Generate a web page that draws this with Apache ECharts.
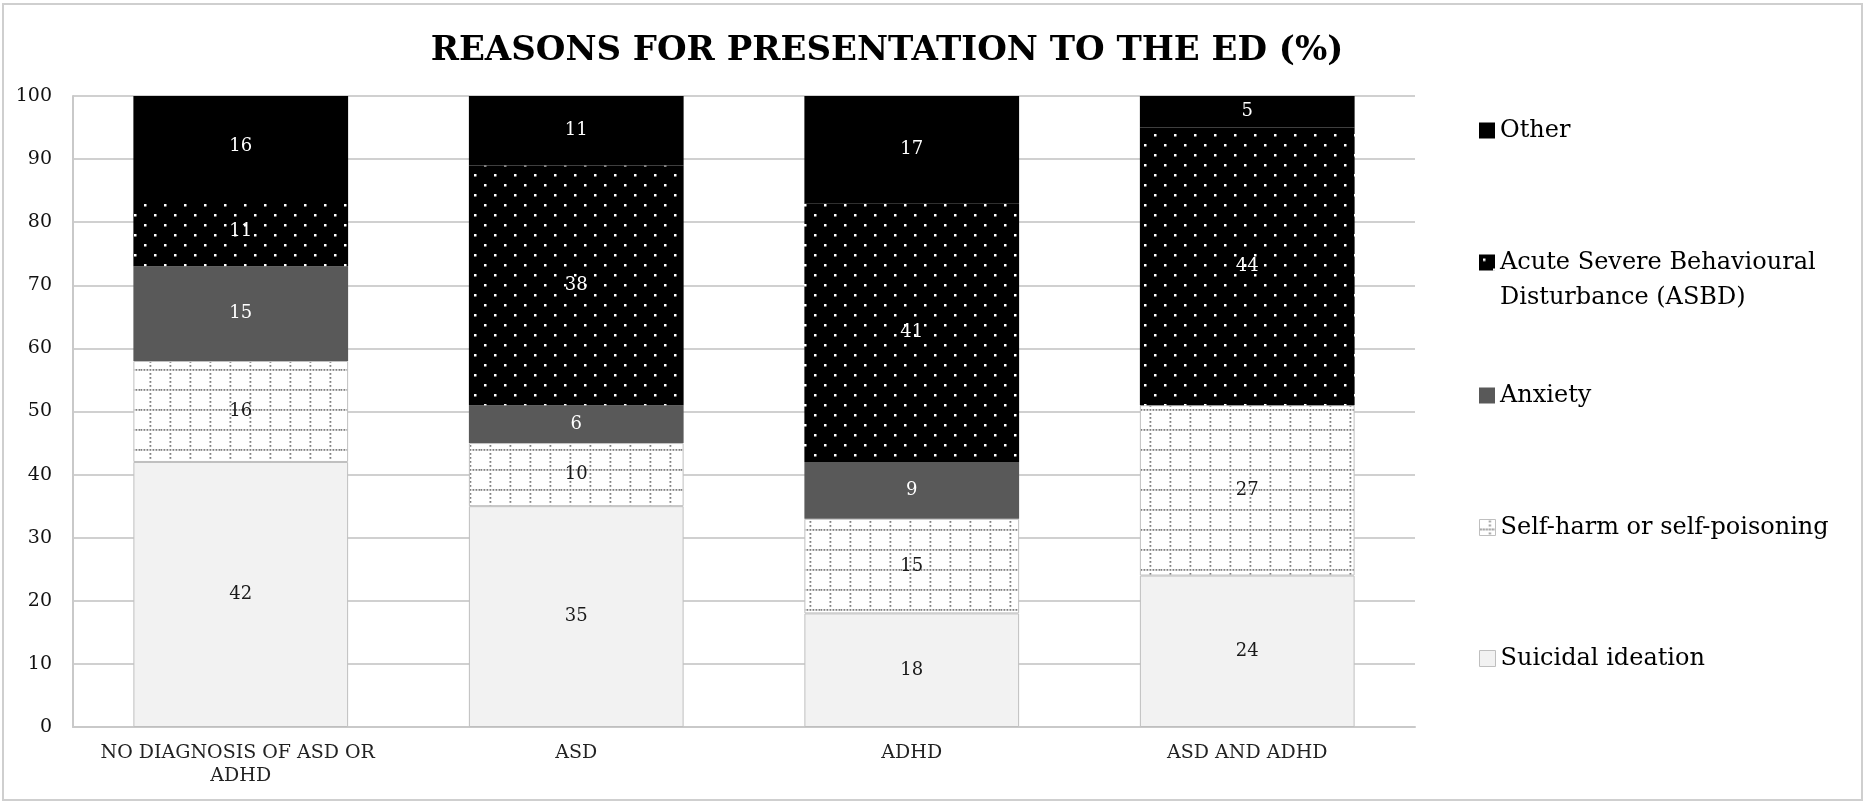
<!DOCTYPE html>
<html>
<head>
<meta charset="utf-8">
<script src="https://cdn.jsdelivr.net/npm/echarts@6/dist/echarts.min.js"></script>
<style>
  html, body { margin: 0; padding: 0; background: #fff; }
  #chart { width: 1865px; height: 802px; }
</style>
</head>
<body>
<div id="chart"></div>
<script>
// ---- data ----
const categories = ['NO DIAGNOSIS OF ASD OR ADHD', 'ASD', 'ADHD', 'ASD AND ADHD'];
const seriesNames = ['Suicidal ideation', 'Self-harm or self-poisoning', 'Anxiety', 'Acute Severe Behavioural Disturbance (ASBD)', 'Other'];
const suicidalIdeation = [42, 35, 18, 24];
const selfHarm = [16, 10, 15, 27];
const anxiety = [15, 6, 9, 0];
const asbd = [11, 38, 41, 44];
const other = [16, 11, 17, 5];
const titleText = 'REASONS FOR PRESENTATION TO THE ED (%)';
const yMin = 0, yMax = 100, yStep = 10;

// ---- patterns ----
function dotPattern() {
  const c = document.createElement('canvas');
  c.width = 20; c.height = 20;
  const g = c.getContext('2d');
  g.fillStyle = '#000'; g.fillRect(0, 0, 20, 20);
  g.fillStyle = '#fff';
  g.fillRect(4, 4, 2.5, 2.5);
  g.fillRect(14, 14, 2.5, 2.5);
  return { image: c, repeat: 'repeat' };
}
function gridPattern() {
  const c = document.createElement('canvas');
  c.width = 20; c.height = 20;
  const g = c.getContext('2d');
  g.fillStyle = '#fff'; g.fillRect(0, 0, 20, 20);
  g.fillStyle = '#7f7f7f';
  [0, 3, 6, 9, 12, 15, 18].forEach(x => g.fillRect(x + 0.5, 9, 1.8, 1.8));
  [1, 5, 13, 17].forEach(y => g.fillRect(9.5, y, 1.8, 1.8));
  return { image: c, repeat: 'repeat' };
}

const fills = ['#f2f2f2', gridPattern(), '#595959', dotPattern(), '#000000'];
const borderWidths = [1, 1, 0, 0, 0];
const labelColors = ['#1a1a1a', '#1a1a1a', '#ffffff', '#ffffff', '#ffffff'];
const values = [suicidalIdeation, selfHarm, anxiety, asbd, other];
const font = 'DejaVu Serif';

const chart = echarts.init(document.getElementById('chart'), null, { renderer: 'canvas' });

const series = seriesNames.map((name, i) => ({
  name: name,
  type: 'bar',
  stack: 'total',
  barWidth: '64%',
  data: values[i],
  itemStyle: { color: fills[i], borderColor: '#bfbfbf', borderWidth: borderWidths[i] },
  label: {
    show: true,
    position: 'inside',
    color: labelColors[i],
    fontFamily: font,
    fontSize: 18,
    formatter: p => (p.value ? String(p.value) : '')
  },
  emphasis: { disabled: true }
}));

// one legend per item to match the spaced layout
const legendCenters = [131, 263, 396, 528, 659];
const legendOrder = [4, 3, 2, 1, 0];
const legends = legendOrder.map((si, k) => {
  const isAsbd = si === 3;
  const dark = si >= 2;
  return {
    data: [seriesNames[si]],
    orient: 'vertical',
    left: 1474,
    top: legendCenters[k] - 23,
    itemWidth: 16,
    itemHeight: isAsbd ? 51 : 16,
    icon: isAsbd ? 'path://M0 0H16V16H0Z M0 51H0.01V51.01H0Z' : 'rect',
    itemGap: 0,
    selectedMode: false,
    itemStyle: dark ? { borderWidth: 0 } : { borderColor: '#bfbfbf', borderWidth: 1 },
    formatter: n => n.replace(' Disturbance', '\nDisturbance'),
    textStyle: { fontFamily: font, fontSize: 24, color: '#000', lineHeight: 35 }
  };
});

chart.setOption({
  animation: false,
  backgroundColor: '#fff',
  title: {
    text: titleText,
    left: 882,
    textAlign: 'center',
    top: 26,
    textStyle: { fontFamily: font, fontWeight: 'bold', fontSize: 34, color: '#000', lineHeight: 40 }
  },
  graphic: [{
    type: 'rect',
    shape: { x: 3, y: 4, width: 1859, height: 796 },
    style: { fill: 'none', stroke: '#cfcfcf', lineWidth: 2 },
    silent: true, z: -1
  }],
  legend: legends,
  grid: { left: 73, right: 450, top: 96, bottom: 75, containLabel: false },
  xAxis: {
    type: 'category',
    data: categories,
    axisTick: { show: false },
    axisLine: { lineStyle: { color: '#c9c9c9', width: 2 } },
    axisLabel: {
      fontFamily: font, fontSize: 19, color: '#222', margin: 15, lineHeight: 23,
      width: 320, overflow: 'break', interval: 0
    }
  },
  yAxis: {
    type: 'value',
    min: yMin, max: yMax, interval: yStep,
    axisLine: { show: true, lineStyle: { color: '#c9c9c9', width: 2 } },
    axisTick: { show: false },
    splitLine: { lineStyle: { color: '#d0d0d0', width: 2 } },
    axisLabel: { fontFamily: font, fontSize: 19, color: '#111', margin: 21 }
  },
  series: series
});
</script>
</body>
</html>
